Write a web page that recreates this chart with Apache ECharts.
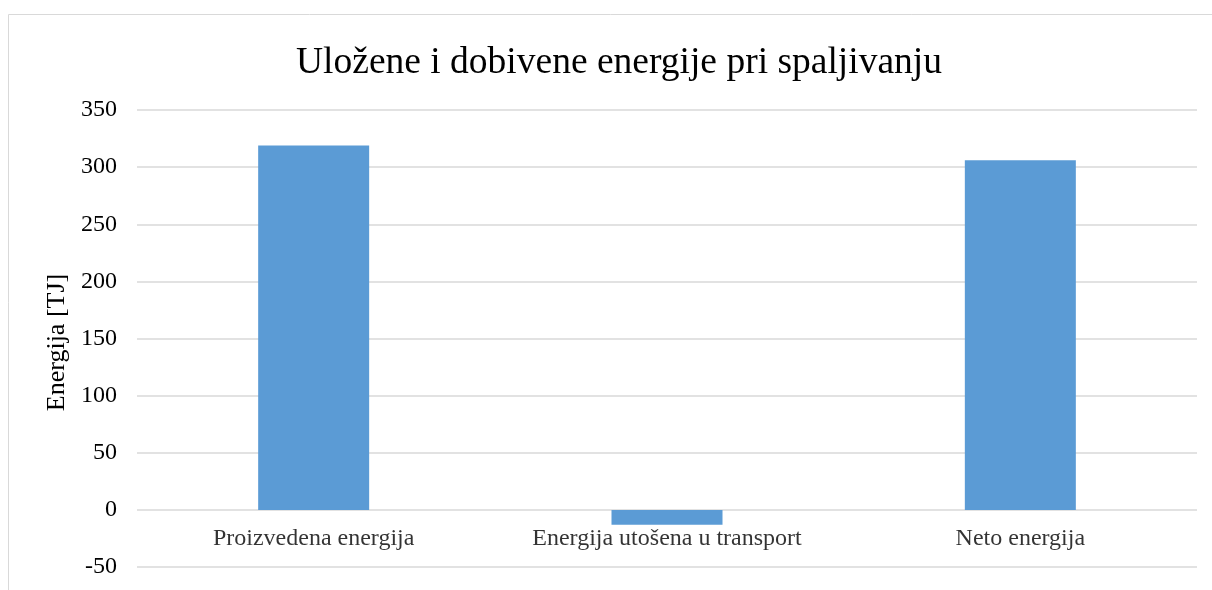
<!DOCTYPE html>
<html>
<head>
<meta charset="utf-8">
<script src="https://cdn.jsdelivr.net/npm/echarts@6/dist/echarts.min.js"></script>
<style>
  html, body { margin: 0; padding: 0; background: #fff; }
  #chart { width: 1212px; height: 590px; }
</style>
</head>
<body>
<div id="chart"></div>
<script>
// kategorije i vrijednosti (TJ)
var categories = ['Proizvedena energija', 'Energija utošena u transport', 'Neto energija'];
var energija = [319, -13, 306];
var yMin = -50, yMax = 350, yStep = 50;

var font = '"Liberation Serif", "Times New Roman", serif';
var chart = echarts.init(document.getElementById('chart'));

chart.setOption({
  animation: false,
  textStyle: { fontFamily: font, color: '#000' },
  title: {
    text: 'Uložene i dobivene energije pri spaljivanju',
    left: 291,
    top: 39,
    textStyle: { fontFamily: font, fontSize: 37.5, fontWeight: 'normal', color: '#000' }
  },
  graphic: [{
    type: 'rect',
    shape: { x: 8.5, y: 14.5, width: 1220, height: 600 },
    style: { fill: 'none', stroke: '#d9d9d9', lineWidth: 1 },
    silent: true
  }],
  grid: { left: 137, right: 15, top: 110, bottom: 23, outerBoundsMode: 'none', containLabel: false },
  xAxis: {
    type: 'category',
    data: categories,
    axisLine: { show: false },
    axisTick: { show: false },
    axisLabel: { show: false }
  },
  yAxis: {
    type: 'value',
    min: yMin,
    max: yMax,
    interval: yStep,
    name: 'Energija [TJ]',
    nameLocation: 'middle',
    nameGap: 65,
    nameTextStyle: { color: '#000', fontFamily: font, fontSize: 26, padding: [0, 8, 0, 0] },
    axisLine: { show: false },
    axisTick: { show: false },
    axisLabel: { color: '#000', fontFamily: font, fontSize: 24, margin: 20 },
    splitLine: { lineStyle: { color: '#d9d9d9', width: 1.5 } }
  },
  series: [{
    type: 'bar',
    data: energija,
    barWidth: 111,
    itemStyle: { color: '#5b9bd5' }
  }, {
    // nazivi kategorija uz liniju nule
    type: 'scatter',
    data: categories.map(function (c) { return [c, 0]; }),
    symbolSize: 0,
    silent: true,
    label: {
      show: true,
      position: 'bottom',
      distance: 17,
      formatter: function (p) { return p.value[0]; },
      color: '#000',
      fontFamily: font,
      fontWeight: 'normal',
      fontSize: 24
    }
  }]
});
</script>
</body>
</html>
